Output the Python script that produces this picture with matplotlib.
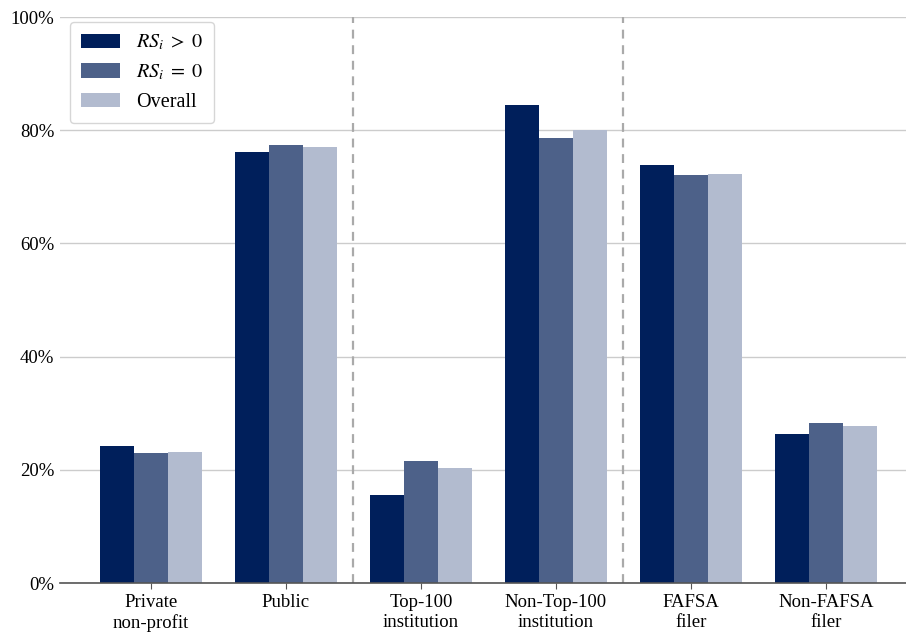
import numpy as np
import matplotlib
matplotlib.use("Agg")
import matplotlib.pyplot as plt
from matplotlib.ticker import FuncFormatter

plt.rcParams["font.family"] = ["Liberation Serif", "DejaVu Serif"]
plt.rcParams["mathtext.fontset"] = "stix"

categories = ["Private\nnon-profit", "Public", "Top-100\ninstitution",
              "Non-Top-100\ninstitution", "FAFSA\nfiler", "Non-FAFSA\nfiler"]
rs_pos = [24.2, 76.1, 15.5, 84.5, 73.8, 26.3]
rs_zero = [23.0, 77.3, 21.6, 78.6, 72.0, 28.2]
overall = [23.2, 77.0, 20.3, 80.0, 72.3, 27.7]

series = [
    (rs_pos, r"$RS_i\;>\;0$", "#001f5b"),
    (rs_zero, r"$RS_i\;=\;0$", "#4d6189"),
    (overall, "Overall", "#b2bbcf"),
]

fig = plt.figure(figsize=(9.06, 6.33), dpi=100)
ax = fig.add_axes([60 / 906, 50 / 633, 846 / 906, 566 / 633])

x = np.arange(len(categories))
width = 0.25
for k, (vals, label, color) in enumerate(series):
    ax.bar(x + (k - 1) * width, vals, width, color=color, label=label, zorder=3)

# separators between the three pairs of groups
for sep in (1.5, 3.5):
    ax.axvline(sep, color="#aaaaaa", lw=1.6, ls=(0, (4, 3)), zorder=2)

ax.set_xlim(-0.674, 5.593)
ax.set_ylim(0, 100)
ax.set_yticks(np.arange(0, 101, 20))
ax.yaxis.set_major_formatter(FuncFormatter(lambda v, _: f"{v:.0f}%"))
ax.set_xticks(x)
ax.set_xticklabels(categories)
ax.grid(axis="y", color="#cccccc", lw=1.0, zorder=0)

for side in ("top", "right", "left"):
    ax.spines[side].set_visible(False)
ax.spines["bottom"].set_color("#555555")
ax.spines["bottom"].set_linewidth(1.2)
ax.spines["bottom"].set_zorder(4)

ax.tick_params(axis="y", length=0, labelsize=13.5, pad=4)
ax.tick_params(axis="x", length=4, color="#555555", labelsize=13.5, pad=4)

leg = ax.legend(loc="upper left", bbox_to_anchor=(10 / 846, 1 - 5 / 566),
                borderaxespad=0, fontsize=14.5,
                frameon=True, fancybox=True, edgecolor="#cccccc",
                handlelength=1.95, handleheight=0.7, handletextpad=0.8,
                borderpad=0.55, labelspacing=0.5)
leg.get_frame().set_linewidth(1.0)

fig.savefig("out.png", dpi=100)
